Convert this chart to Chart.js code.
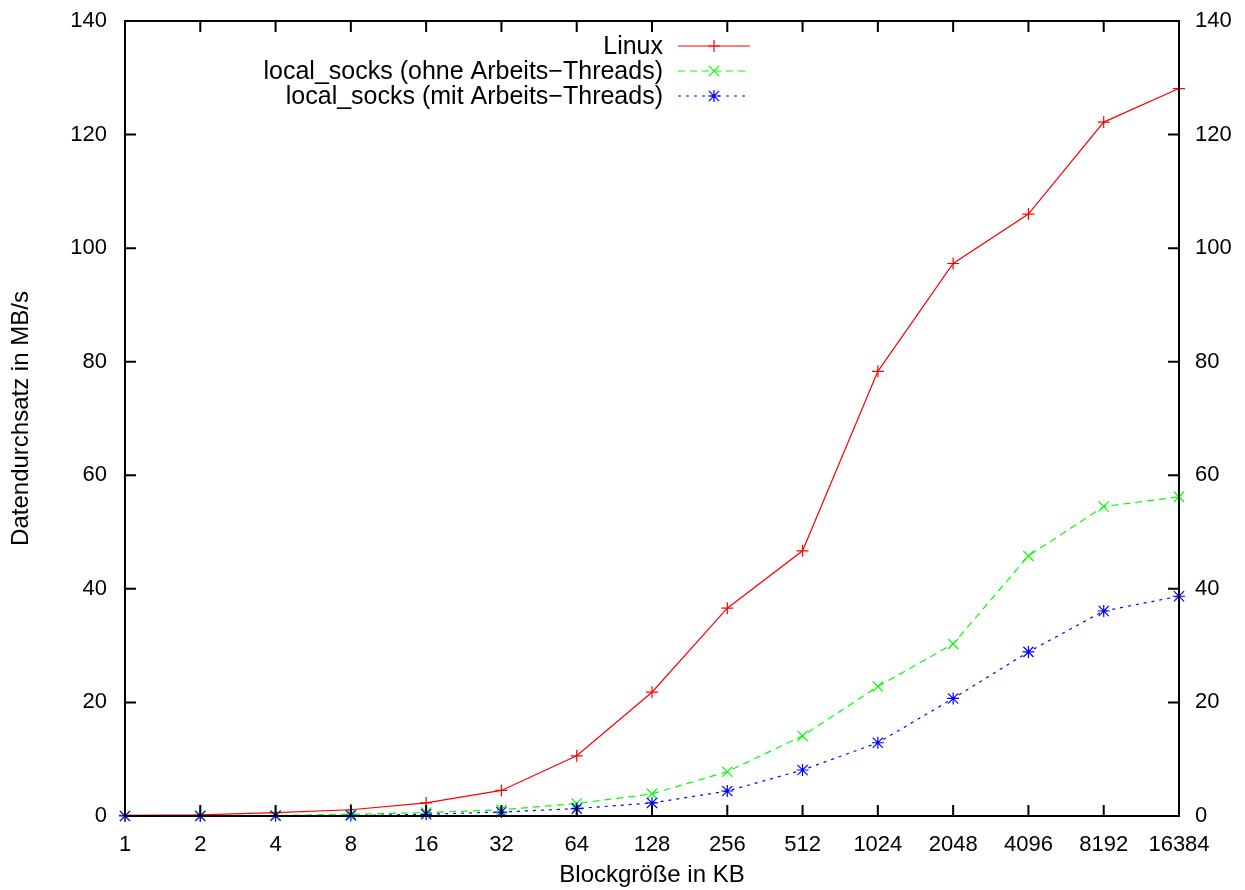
<!DOCTYPE html>
<html>
<head>
<meta charset="utf-8">
<script src="https://cdn.jsdelivr.net/npm/chart.js@4"></script>
<style>
html,body{margin:0;padding:0;background:#fff;}
#wrap{width:1245px;height:890px;position:relative;}
</style>
</head>
<body>
<div id="wrap"><canvas id="c" width="1245" height="890"></canvas></div>
<script>
const categories = ["1","2","4","8","16","32","64","128","256","512","1024","2048","4096","8192","16384"];
const linuxValues = [0.1,0.2,0.6,1.1,2.3,4.5,10.6,21.8,36.6,46.7,78.3,97.3,106.0,122.2,128.1];
const ohneValues  = [0.0,0.05,0.1,0.3,0.6,1.1,2.2,3.9,7.8,14.1,22.8,30.3,45.8,54.5,56.2];
const mitValues   = [0.0,0.0,0.05,0.1,0.3,0.7,1.3,2.3,4.4,8.1,12.9,20.7,28.9,36.1,38.7];
const yTicks = [0,20,40,60,80,100,120,140];
const seriesNames = ["Linux","local_socks (ohne Arbeits\u2212Threads)","local_socks (mit Arbeits\u2212Threads)"];
const xTitle = "Blockgr\u00f6\u00dfe in KB";
const yTitle = "Datendurchsatz in MB/s";

const FONT = "'Liberation Sans', Arial, Helvetica, sans-serif";

function drawMarker(ctx, style, x, y, r, color){
  ctx.save();
  ctx.strokeStyle = color; ctx.lineWidth = 1.2; ctx.setLineDash([]);
  ctx.beginPath();
  if (style === 'cross' || style === 'star'){
    ctx.moveTo(x - r, y); ctx.lineTo(x + r, y);
    ctx.moveTo(x, y - r); ctx.lineTo(x, y + r);
  }
  if (style === 'crossRot' || style === 'star'){
    const d = r * 0.85;
    ctx.moveTo(x - d, y - d); ctx.lineTo(x + d, y + d);
    ctx.moveTo(x - d, y + d); ctx.lineTo(x + d, y - d);
  }
  ctx.stroke();
  ctx.restore();
}

const framePlugin = {
  id: 'frame',
  afterDraw(chart){
    const ctx = chart.ctx, a = chart.chartArea;
    const xs = chart.scales.x, ys = chart.scales.y;
    ctx.save();
    ctx.strokeStyle = '#000'; ctx.lineWidth = 2; ctx.setLineDash([]);
    ctx.strokeRect(a.left, a.top, a.right - a.left, a.bottom - a.top);
    ctx.beginPath();
    const tl = 11;
    for (let i = 0; i < categories.length; i++){
      const px = xs.getPixelForTick(i);
      ctx.moveTo(px, a.bottom); ctx.lineTo(px, a.bottom - tl);
      ctx.moveTo(px, a.top); ctx.lineTo(px, a.top + tl);
    }
    yTicks.forEach(v => {
      const py = ys.getPixelForValue(v);
      ctx.moveTo(a.left, py); ctx.lineTo(a.left + tl, py);
      ctx.moveTo(a.right, py); ctx.lineTo(a.right - tl, py);
    });
    ctx.stroke();

    // legend (gnuplot style)
    ctx.font = '25px ' + FONT;
    ctx.fillStyle = '#000';
    ctx.textAlign = 'right'; ctx.textBaseline = 'middle';
    const rows = [46, 71, 96];
    const ds = chart.data.datasets;
    for (let i = 0; i < ds.length; i++){
      const y = rows[i];
      ctx.fillText(seriesNames[i], 663, y + 1);
      ctx.save();
      ctx.strokeStyle = ds[i].borderColor; ctx.lineWidth = 1.2;
      ctx.setLineDash(ds[i].borderDash || []);
      ctx.beginPath(); ctx.moveTo(678, y); ctx.lineTo(750, y); ctx.stroke();
      ctx.restore();
      drawMarker(ctx, ds[i].pointStyle, 714, y, 6, ds[i].borderColor);
    }
    ctx.restore();
  }
};

const markerPlugin = {
  id: 'markers',
  afterDatasetsDraw(chart){
    const ctx = chart.ctx;
    chart.data.datasets.forEach((ds, i) => {
      const meta = chart.getDatasetMeta(i);
      meta.data.forEach(pt => drawMarker(ctx, ds.pointStyle, pt.x, pt.y, 6, ds.borderColor));
    });
  }
};

function noPad(s){ s.paddingTop = 0; s.paddingBottom = 0; s.paddingLeft = 0; s.paddingRight = 0; }

new Chart(document.getElementById('c'), {
  type: 'line',
  data: {
    labels: categories,
    datasets: [
      { label: seriesNames[0], data: linuxValues, borderColor: '#ff0000', borderWidth: 1.2, pointStyle: 'cross', pointRadius: 0, tension: 0, fill: false },
      { label: seriesNames[1], data: ohneValues, borderColor: '#00ff00', borderWidth: 1.2, borderDash: [7,5], pointStyle: 'crossRot', pointRadius: 0, tension: 0, fill: false },
      { label: seriesNames[2], data: mitValues, borderColor: '#0000ff', borderWidth: 1.2, borderDash: [3,5], pointStyle: 'star', pointRadius: 0, tension: 0, fill: false }
    ]
  },
  options: {
    responsive: false,
    animation: false,
    clip: false,
    layout: { padding: { top: 21, left: 0, right: 0, bottom: 0 } },
    plugins: { legend: { display: false }, tooltip: { enabled: false } },
    scales: {
      x: {
        type: 'category', offset: false,
        grid: { display: false, drawTicks: false },
        border: { display: false },
        ticks: { color: '#000', font: { size: 22, family: FONT }, padding: 16, maxRotation: 0, autoSkip: false },
        title: { display: true, text: xTitle, color: '#000', font: { size: 24, family: FONT }, padding: { top: 4, bottom: 0 } },
        afterFit(s){ s.height = 74; noPad(s); }
      },
      y: {
        position: 'left', min: 0, max: 140,
        grid: { display: false, drawTicks: false },
        border: { display: false },
        ticks: { stepSize: 20, color: '#000', font: { size: 22, family: FONT }, padding: 18 },
        title: { display: true, text: yTitle, color: '#000', font: { size: 24, family: FONT }, padding: { top: 7, bottom: 0 } },
        afterFit(s){ s.width = 125; noPad(s); }
      },
      y2: {
        position: 'right', min: 0, max: 140,
        grid: { display: false, drawTicks: false },
        border: { display: false },
        ticks: { stepSize: 20, color: '#000', font: { size: 22, family: FONT }, padding: 16 },
        afterFit(s){ s.width = 66; noPad(s); }
      }
    }
  },
  plugins: [markerPlugin, framePlugin]
});
</script>
</body>
</html>
